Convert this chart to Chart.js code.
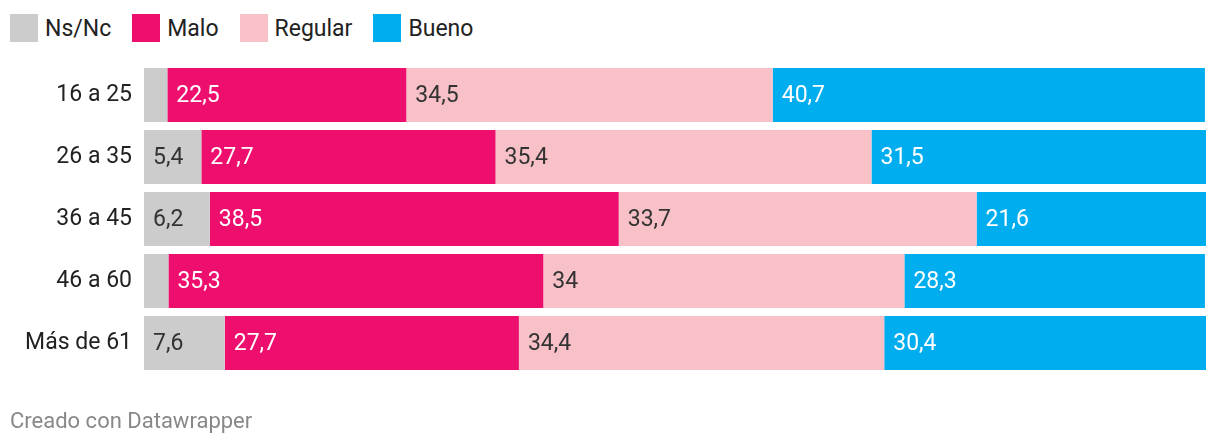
<!DOCTYPE html>
<html>
<head>
<meta charset="utf-8">
<script src="https://cdn.jsdelivr.net/npm/chart.js@4"></script>
<style>
  html, body { margin: 0; padding: 0; background: #fff; }
  body { width: 1220px; height: 448px; position: relative; overflow: hidden; font-family: Roboto, sans-serif; }
  #leyenda { position: absolute; left: 10px; top: 14px; display: flex; align-items: center; font-size: 23px; color: #222; }
  .item { display: flex; align-items: center; margin-right: 21px; }
  .caja { width: 28px; height: 28px; margin-right: 7px; }
  #grafico-wrap { position: absolute; left: 0; top: 0; width: 1220px; height: 448px; }
  #pie { position: absolute; left: 10px; top: 408px; font-size: 22px; color: #888; }
</style>
</head>
<body>
<div id="leyenda"></div>
<div id="grafico-wrap"><canvas id="grafico"></canvas></div>
<div id="pie">Creado con Datawrapper</div>
<script>
const categorias = ["16 a 25", "26 a 35", "36 a 45", "46 a 60", "Más de 61"];
const series = ["Ns/Nc", "Malo", "Regular", "Bueno"];
const colores = ["#cccccc", "#ed0e6e", "#f8c1c7", "#00aeef"];
const colorTexto = ["#333333", "#ffffff", "#333333", "#ffffff"];

const nsnc = [2.2, 5.4, 6.2, 2.3, 7.6];
const malo = [22.5, 27.7, 38.5, 35.3, 27.7];
const regular = [34.5, 35.4, 33.7, 34, 34.4];
const bueno = [40.7, 31.5, 21.6, 28.3, 30.4];
// los valores chicos de Ns/Nc no llevan etiqueta en el original
const mostrarEtiqueta = [
  [false, true, true, false, true],
  [true, true, true, true, true],
  [true, true, true, true, true],
  [true, true, true, true, true]
];

const valores = [nsnc, malo, regular, bueno];

// leyenda en html
const leyenda = document.getElementById("leyenda");
series.forEach((nombre, i) => {
  const item = document.createElement("div");
  item.className = "item";
  item.innerHTML = `<div class="caja" style="background:${colores[i]}"></div><span>${nombre}</span>`;
  leyenda.appendChild(item);
});

const etiquetas = {
  id: "etiquetas",
  afterDatasetsDraw(chart) {
    const ctx = chart.ctx;
    ctx.save();
    ctx.font = "23px Roboto";
    ctx.textBaseline = "middle";
    ctx.textAlign = "left";
    chart.data.datasets.forEach((ds, i) => {
      const meta = chart.getDatasetMeta(i);
      meta.data.forEach((bar, j) => {
        if (!mostrarEtiqueta[i][j]) return;
        const inicio = Math.min(bar.x, bar.base);
        ctx.fillStyle = colorTexto[i];
        ctx.fillText(String(ds.data[j]).replace(".", ","), inicio + 9, bar.y + 1);
      });
    });
    ctx.restore();
  }
};

new Chart(document.getElementById("grafico"), {
  type: "bar",
  data: {
    labels: categorias,
    datasets: series.map((nombre, i) => ({
      label: nombre,
      data: valores[i],
      backgroundColor: colores[i],
      borderWidth: 0,
      barPercentage: 54 / 62,
      categoryPercentage: 1
    }))
  },
  options: {
    indexAxis: "y",
    responsive: true,
    maintainAspectRatio: false,
    animation: false,
    layout: { padding: { top: 64, bottom: 74, left: 0, right: 14 } },
    plugins: { legend: { display: false }, tooltip: { enabled: false } },
    scales: {
      x: { stacked: true, min: 0, max: 100, display: false },
      y: {
        stacked: true,
        grid: { display: false, drawTicks: false },
        border: { display: false },
        ticks: { color: "#222", font: { family: "Roboto", size: 23 }, padding: 12 },
        afterFit(scale) { scale.width = 144; }
      }
    }
  },
  plugins: [etiquetas]
});
</script>
</body>
</html>
